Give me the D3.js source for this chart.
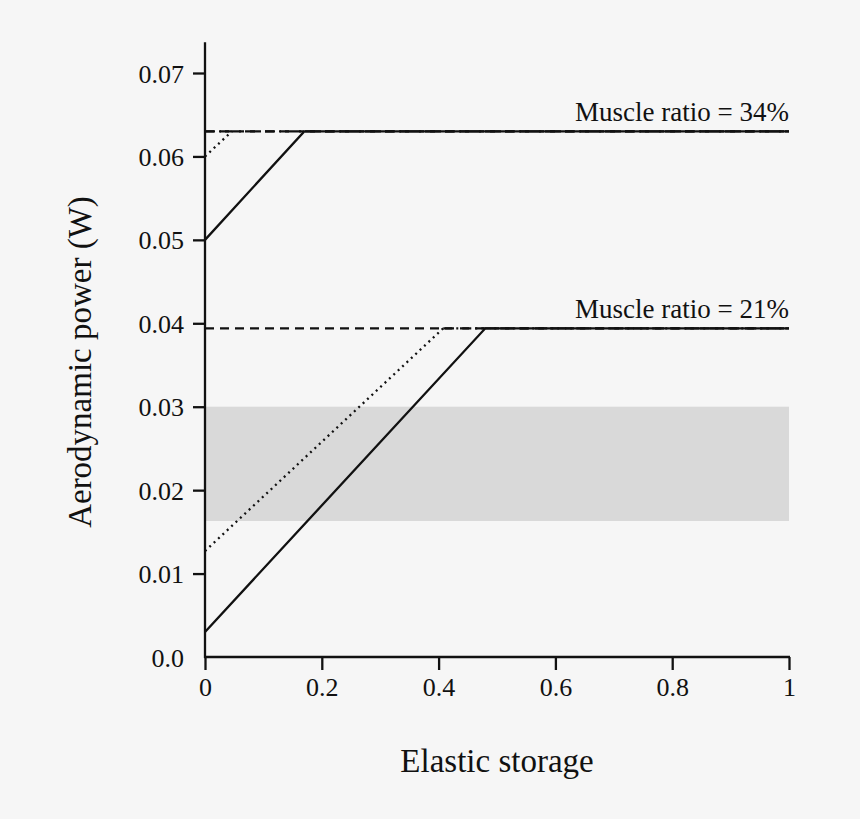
<!DOCTYPE html>
<html>
<head>
<meta charset="utf-8">
<script src="https://cdn.jsdelivr.net/npm/d3@7"></script>
<style>
  html, body { margin: 0; padding: 0; background: #f6f6f6; }
  svg { display: block; }
  text { font-family: "Liberation Serif", "Times New Roman", serif; fill: #111; }
</style>
</head>
<body>
<svg id="chart" width="860" height="819"></svg>
<script>
// ---- data ----
const xTicks = [0, 0.2, 0.4, 0.6, 0.8, 1];
const xTickLabels = ["0", "0.2", "0.4", "0.6", "0.8", "1"];
const yTicks = [0, 0.01, 0.02, 0.03, 0.04, 0.05, 0.06, 0.07];
const yTickLabels = ["0.0", "0.01", "0.02", "0.03", "0.04", "0.05", "0.06", "0.07"];

const groups = ["Muscle ratio = 34%", "Muscle ratio = 21%"];
const plateau = [0.0630, 0.0394];            // horizontal power level
const solidStart = [0.0500, 0.0030];         // solid line value at x = 0
const solidKnee = [0.170, 0.480];            // x where solid line reaches plateau
const dottedStart = [0.0600, 0.0127];        // dotted line value at x = 0
const dottedKnee = [0.046, 0.408];           // x where dotted line reaches plateau
const dashedStart = [0.0, 0.0];              // dashed horizontal from x
const dashDotStart = [0.0, 0.408];           // dash-dot horizontal from x

const bandLow = 0.0163, bandHigh = 0.0300;   // grey band
const xLabel = "Elastic storage";
const yLabel = "Aerodynamic power (W)";

// ---- layout ----
const svg = d3.select("#chart");
const x = d3.scaleLinear().domain([0, 1]).range([205, 789]);
const y = d3.scaleLinear().domain([0, 0.07]).range([657, 73]);
const yTop = 0.0737;
const sw = 2.3;

// band
svg.append("rect")
  .attr("x", x(0)).attr("width", x(1) - x(0))
  .attr("y", y(bandHigh)).attr("height", y(bandLow) - y(bandHigh))
  .attr("fill", "#d9d9d9");

const line = d3.line().x(d => x(d[0])).y(d => y(d[1]));
const g = svg.append("g");

groups.forEach((name, i) => {
  const h = plateau[i];
  // dashed horizontal
  g.append("path").attr("d", line([[dashedStart[i], h], [1, h]]))
    .attr("fill", "none").attr("stroke", "#111").attr("stroke-width", sw)
    .attr("stroke-dasharray", "9,6");
  // dash-dot horizontal
  g.append("path").attr("d", line([[dashDotStart[i], h], [1, h]]))
    .attr("fill", "none").attr("stroke", "#111").attr("stroke-width", sw)
    .attr("stroke-dasharray", i === 0 ? "10,4,2,4" : "9,4,2,4");
  // dotted
  g.append("path").attr("d", line([[0, dottedStart[i]], [dottedKnee[i], h]]))
    .attr("fill", "none").attr("stroke", "#111").attr("stroke-width", sw)
    .attr("stroke-dasharray", "2,4");
  // solid
  g.append("path").attr("d", line([[0, solidStart[i]], [solidKnee[i], h], [1, h]]))
    .attr("fill", "none").attr("stroke", "#111").attr("stroke-width", sw);
  // label
  svg.append("text").attr("x", x(1)).attr("y", y(h) - 10)
    .attr("text-anchor", "end").attr("font-size", 27).text(name);
});

// axes
const xAxis = d3.axisBottom(x).tickValues(xTicks)
  .tickFormat((d, i) => xTickLabels[i]).tickSize(13).tickSizeOuter(0).tickPadding(8);
const yAxis = d3.axisLeft(y).tickValues(yTicks)
  .tickFormat((d, i) => yTickLabels[i]).tickSize(12).tickSizeOuter(0).tickPadding(9);

const gx = svg.append("g").attr("transform", `translate(0,${y(0)})`).call(xAxis);
const gy = svg.append("g").attr("transform", `translate(${x(0)},0)`).call(yAxis);
[gx, gy].forEach(a => {
  a.selectAll("path.domain").remove();
  a.selectAll("line").attr("stroke", "#111").attr("stroke-width", sw);
  a.selectAll("text").attr("font-size", 26)
    .attr("font-family", '"Liberation Serif", "Times New Roman", serif').attr("fill", "#111");
});
// remove the 0 y-tick (axis corner) line
gy.selectAll(".tick").filter(d => d === 0).select("line").remove();
gy.selectAll("text").attr("dy", "0.35em");

// axis lines
svg.append("line").attr("x1", x(0)).attr("x2", x(0)).attr("y1", y(yTop)).attr("y2", y(0) + 1)
  .attr("stroke", "#111").attr("stroke-width", sw);
svg.append("line").attr("x1", x(0) - 1).attr("x2", x(1) + 1).attr("y1", y(0)).attr("y2", y(0))
  .attr("stroke", "#111").attr("stroke-width", sw);

// titles
svg.append("text").attr("x", (x(0) + x(1)) / 2).attr("y", 772)
  .attr("text-anchor", "middle").attr("font-size", 33).text(xLabel);
svg.append("text").attr("transform", `translate(91,362) rotate(-90)`)
  .attr("text-anchor", "middle").attr("font-size", 33).text(yLabel);
</script>
</body>
</html>
